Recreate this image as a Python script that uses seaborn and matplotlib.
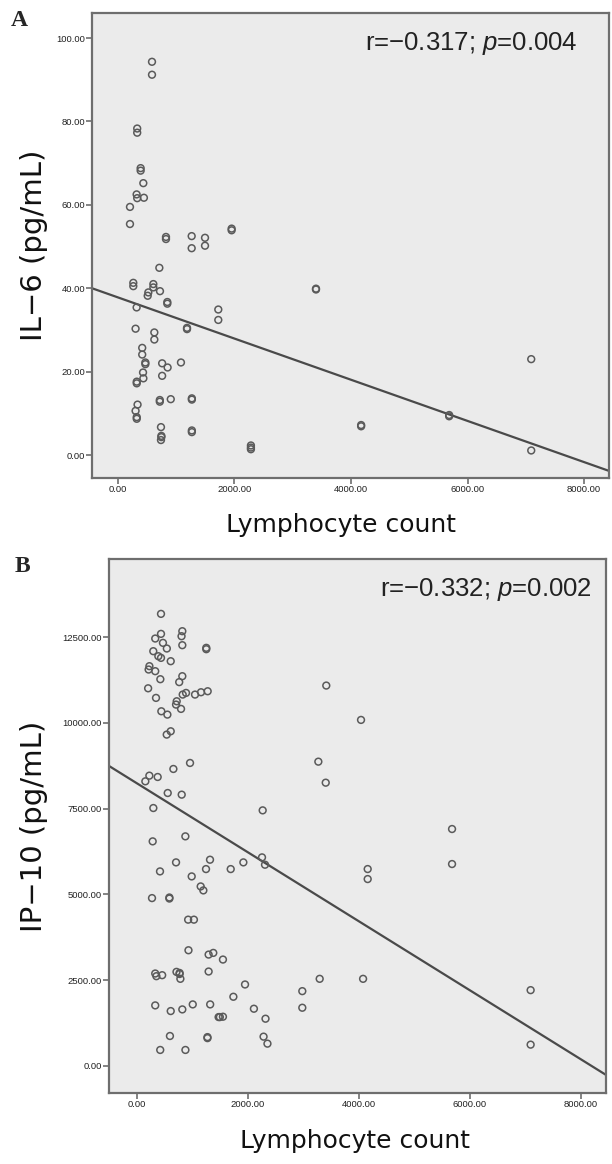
import numpy as np
import pandas as pd
import matplotlib
matplotlib.use("Agg")
import matplotlib.pyplot as plt
import seaborn as sns

# ---------------- data ----------------
il6_lymph = [584, 584, 330, 330, 389, 389, 435, 320, 330, 445, 206, 206, 824, 824,
             1265, 1265, 1494, 1494, 1951, 1951, 710, 263, 263, 607, 607, 721, 521,
             510, 847, 847, 320, 1722, 1722, 3399, 3399, 302, 624, 624, 1185, 1185,
             416, 416, 470, 470, 758, 852, 1081, 430, 436, 322, 322, 758, 7094, 336,
             302, 322, 322, 718, 718, 906, 1268, 1268, 5685, 5685, 738, 745, 745, 738,
             1268, 1268, 2282, 2282, 2282, 4174, 4174, 7094]
il6_value = [94.3, 91.2, 78.3, 77.3, 68.8, 68.2, 65.2, 62.5, 61.6, 61.7, 59.5, 55.4,
             52.3, 51.8, 52.5, 49.6, 52.1, 50.2, 54.3, 53.9, 44.9, 41.3, 40.5, 41.0,
             40.2, 39.3, 39.0, 38.2, 36.7, 36.3, 35.4, 34.9, 32.4, 39.9, 39.7, 30.3,
             29.4, 27.7, 30.5, 30.2, 25.7, 24.1, 22.2, 21.8, 22.0, 21.0, 22.2, 19.8,
             18.4, 17.6, 17.2, 19.0, 23.0, 12.1, 10.6, 9.1, 8.7, 13.2, 12.8, 13.4,
             13.6, 13.3, 9.6, 9.3, 6.7, 4.6, 4.3, 3.6, 5.9, 5.5, 2.3, 1.8, 1.4, 7.2,
             6.9, 1.1]

ip10_lymph = [432, 432, 328, 467, 293, 537, 384, 432, 607, 223, 209, 328, 420, 816,
              802, 816, 1248, 1248, 816, 760, 200, 3410,
              342, 715, 703, 793, 823, 883, 1045, 1153, 1273, 438, 547, 535, 607, 955,
              655, 222, 372, 150, 553, 805, 294, 2264, 282, 871, 1315, 703, 414, 1243,
              1688, 1916, 2252, 2306, 985, 1147, 1195, 270, 583, 583,
              4036, 3267, 3400, 5676, 5676, 4156, 4156,
              921, 1025, 927, 1290, 1374, 1548, 328, 349, 453, 711, 767, 767, 781, 1290,
              1946, 1736, 2978, 2978, 3291, 4073, 7092, 328, 607, 816, 1004, 1318, 1470,
              1492, 1548, 2106, 2315, 593, 1269, 1269, 2280, 2350, 418, 872, 7092]
ip10_value = [13180, 12597, 12461, 12335, 12092, 12170, 11946, 11897, 11800, 11655,
              11557, 11509, 11275, 12675, 12529, 12267, 12190, 12150, 11363, 11190,
              11010, 11090,
              10730, 10632, 10535, 10409, 10827, 10875, 10827, 10895, 10924, 10340,
              10243, 9660, 9757, 8833, 8658, 8463, 8424, 8298, 7957, 7909, 7519, 7451,
              6547, 6693, 6012, 5934, 5671, 5739, 5739, 5934, 6080, 5866, 5525, 5233,
              5117, 4893, 4910, 4880,
              10088, 8871, 8258, 6907, 5886, 5740, 5448,
              4264, 4264, 3372, 3246, 3295, 3101, 2694, 2616, 2645, 2742, 2710, 2680,
              2539, 2752, 2374, 2016, 2180, 1696, 2539, 2539, 2209, 1764, 1599, 1647,
              1793, 1793, 1424, 1424, 1434, 1667, 1376, 872, 840, 810, 853, 649, 465,
              465, 620]

# fit lines (intercept, slope) as drawn in the reference
il6_fit = [37.8, -0.004935]
ip10_fit = [8238.0, -1.006]

x_ticks = [0, 2000, 4000, 6000, 8000]
il6_ticks = [0, 20, 40, 60, 80, 100]
ip10_ticks = [0, 2500, 5000, 7500, 10000, 12500]

il6_stats = "r=\u22120.317; $\\mathit{p}$=0.004"
ip10_stats = "r=\u22120.332; $\\mathit{p}$=0.002"

# ---------------- style ----------------
sns.set_theme(style="white")
plt.rcParams["font.family"] = ["DejaVu Sans"]
plt.rcParams["mathtext.fontset"] = "custom"
plt.rcParams["mathtext.it"] = "Liberation Sans:italic"
plt.rcParams["mathtext.rm"] = "Liberation Sans"

BG = "#ebebeb"
FRAME = "#6e6e6e"
MARK = "#5a5a5a"
LINE = "#4a4a4a"

fig = plt.figure(figsize=(6.12, 11.64), dpi=100)
W, H = 612, 1164


def axes_px(l, t, r, b):
    return fig.add_axes([l / W, 1 - b / H, (r - l) / W, (b - t) / H])


axA = axes_px(92, 13, 609, 478)
axB = axes_px(109, 559, 606, 1093)

# (axes, x, y, fit, yticks, xlim, ylim, ylabel, stats, stats pos,
#  ylabel right edge px, xlabel centre px, left px, width px)
panels = [
    (axA, il6_lymph, il6_value, il6_fit, il6_ticks, (-446, 8429), (-5.5, 106.0),
     "IL\u22126 (pg/mL)", il6_stats, (0.94, 0.935), 48, 341, 92, 517),
    (axB, ip10_lymph, ip10_value, ip10_fit, ip10_ticks, (-505, 8450), (-790, 14780),
     "IP\u221210 (pg/mL)", ip10_stats, (0.972, 0.942), 48, 355, 109, 497),
]

for (ax, xs, ys, fit, yt, xl, yl, ylab, stats, spos,
     ylx, xlx, lpx, wpx) in panels:
    ax.set_facecolor(BG)
    df = pd.DataFrame({"x": xs, "y": ys})
    sns.scatterplot(data=df, x="x", y="y", ax=ax, marker="o", s=24,
                    facecolor="none", edgecolor=MARK, linewidth=1.1, zorder=3)
    ax.set_xlim(*xl)
    ax.set_ylim(*yl)
    xx = np.array(xl, dtype=float)
    ax.plot(xx, fit[0] + fit[1] * xx, color=LINE, lw=1.6, zorder=2)
    ax.set_xticks(x_ticks)
    ax.set_xticklabels([f"{v:.2f}" for v in x_ticks])
    ax.set_yticks(yt)
    ax.set_yticklabels([f"{v:.2f}" for v in yt])
    ax.tick_params(axis="both", which="both", direction="out", length=4, width=1.2,
                   color=FRAME, labelsize=6.8, pad=1, bottom=True, left=True,
                   labelcolor="#222222")
    for lab in ax.get_xticklabels() + ax.get_yticklabels():
        lab.set_family("Liberation Sans")
    for sp in ax.spines.values():
        sp.set_visible(True)
        sp.set_color(FRAME)
        sp.set_linewidth(1.6)
    ax.set_xlabel("Lymphocyte count", fontsize=18, color="#111111", labelpad=10)
    ax.xaxis.set_label_coords((xlx - lpx) / wpx, -0.075 if ax is axA else -0.068)
    ax.set_ylabel(ylab, fontsize=21, color="#111111")
    ax.yaxis.set_label_coords((ylx - lpx) / wpx, 0.5)
    ax.text(spos[0], spos[1], stats, transform=ax.transAxes, ha="right", va="center",
            fontsize=18.5, family="Liberation Sans", color="#222222")
    ax.grid(False)

fig.text(19 / W, 1 - 21 / H, "A", family="Liberation Serif", fontweight="bold",
         fontsize=17, ha="center", va="center")
fig.text(22 / W, 1 - 567 / H, "B", family="Liberation Serif", fontweight="bold",
         fontsize=17, ha="center", va="center")

fig.savefig("out.png", dpi=100, facecolor="white")
